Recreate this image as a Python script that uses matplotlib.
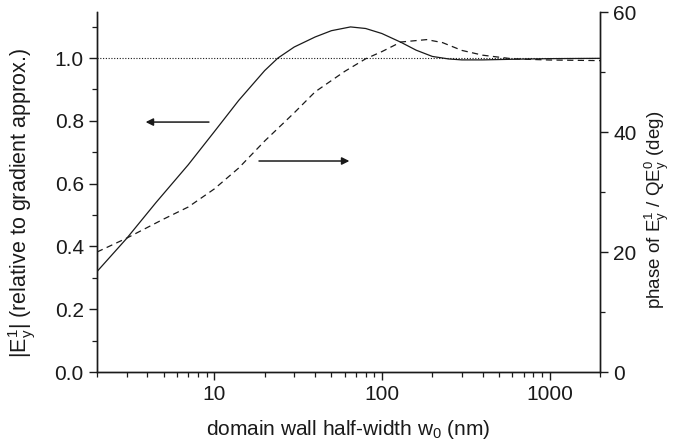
import matplotlib
matplotlib.use("Agg")
import matplotlib.pyplot as plt
from matplotlib.ticker import FixedLocator, LogLocator, MultipleLocator, NullFormatter

plt.rcParams['font.family'] = ['Liberation Sans', 'DejaVu Sans']
plt.rcParams['mathtext.fontset'] = 'custom'
plt.rcParams['mathtext.rm'] = 'Liberation Sans'
plt.rcParams['mathtext.it'] = 'Liberation Sans'

# |E1y| relative to gradient approx (left axis)
w_amp = [2, 3, 4.5, 7, 10, 14, 20, 24, 30, 40, 50, 65, 80, 100, 130, 160, 200,
         250, 300, 400, 600, 1000, 2000]
amp = [0.32, 0.425, 0.54, 0.66, 0.765, 0.865, 0.96, 1.0, 1.035, 1.067, 1.087,
       1.099, 1.094, 1.078, 1.05, 1.025, 1.005, 0.997, 0.994, 0.994, 0.996,
       0.998, 0.999]

# phase (deg), right axis
w_ph = [2, 3, 5, 7, 10, 14, 20, 30, 40, 60, 80, 100, 130, 185, 230, 300, 400,
        600, 1000, 2000]
phase = [20.0, 22.3, 25.5, 27.5, 30.5, 34.0, 38.5, 43.2, 46.7, 50.1, 52.2,
         53.4, 55.0, 55.4, 54.9, 53.6, 52.8, 52.2, 52.0, 51.9]

fig = plt.figure(figsize=(6.9, 4.48), dpi=100)
ax = fig.add_axes([0.1406, 0.1696, 0.729, 0.8036])
ax2 = ax.twinx()

ax.plot(w_amp, amp, color='#1a1a1a', lw=0.9)
ax2.plot(w_ph, phase, color='#1a1a1a', lw=0.9, ls=(0, (5, 3.5)))
ax.axhline(1.0, color='#1a1a1a', lw=0.8, ls=(0, (1, 1.5)))

ax.set_xscale('log')
ax.set_xlim(2, 2000)
ax.set_ylim(0, 1.1465)
ax2.set_ylim(0, 60)

ax.xaxis.set_major_locator(FixedLocator([10, 100, 1000]))
ax.set_xticklabels(['10', '100', '1000'])
ax.xaxis.set_minor_locator(LogLocator(base=10, subs=range(2, 10)))
ax.xaxis.set_minor_formatter(NullFormatter())
ax.yaxis.set_major_locator(FixedLocator([0, 0.2, 0.4, 0.6, 0.8, 1.0]))
ax.set_yticklabels(['0.0', '0.2', '0.4', '0.6', '0.8', '1.0'])
ax.yaxis.set_minor_locator(MultipleLocator(0.1))
ax2.yaxis.set_major_locator(FixedLocator([0, 20, 40, 60]))
ax2.yaxis.set_minor_locator(MultipleLocator(10))

for a in (ax, ax2):
    a.spines['top'].set_visible(False)
    for s in a.spines.values():
        s.set_linewidth(1.0)
        s.set_color('#1a1a1a')
    a.tick_params(which='major', direction='out', length=6, width=1.0,
                  labelsize=15, colors='#1a1a1a')
    a.tick_params(which='minor', direction='out', length=3.5, width=0.9,
                  colors='#1a1a1a')

ax.set_xlabel('domain wall half-width w$_0$ (nm)', fontsize=15,
              color='#1a1a1a')
ax.xaxis.set_label_coords(0.5, -0.128)
ax.set_ylabel('|E$^1_y$| (relative to gradient approx.)', fontsize=15.5,
              color='#1a1a1a')
ax.yaxis.set_label_coords(-0.117, 0.47)
ax2.set_ylabel('phase of E$^1_y$ / QE$^0_y$ (deg)', fontsize=13.5,
               color='#1a1a1a')
ax2.yaxis.set_label_coords(1.085, 0.45)

arrow = dict(arrowstyle='-|>', color='#1a1a1a', lw=1.1, mutation_scale=11,
             shrinkA=0, shrinkB=0)
ax.annotate('', xy=(3.9, 0.796), xytext=(9.3, 0.796), arrowprops=arrow)
ax.annotate('', xy=(64, 0.672), xytext=(18.5, 0.672), arrowprops=arrow)

fig.savefig('out.png', dpi=100)
